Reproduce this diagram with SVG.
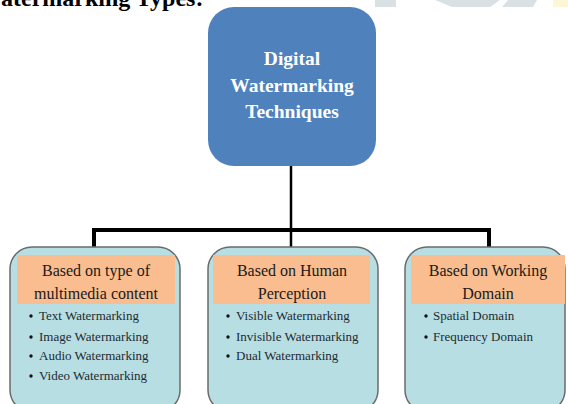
<svg xmlns="http://www.w3.org/2000/svg" width="568" height="404" viewBox="0 0 568 404">
  <style>
    .root-box { fill: #4f81bd; }
    .root-text { font-family: "Liberation Serif", "Times New Roman", serif; font-weight: bold; font-size: 19.5px; fill: #ffffff; text-anchor: middle; }
    .cat-box { fill: #b7dee2; stroke: #6b6b6b; stroke-width: 1.5; }
    .cat-head { fill: #f9bd8f; }
    .cat-text { font-family: "Liberation Serif", "Times New Roman", serif; font-size: 16px; fill: #1a1a1a; text-anchor: middle; }
    .item { font-family: "Liberation Serif", "Times New Roman", serif; font-size: 13px; fill: #1f2a33; }
    .bullet { fill: #111111; }
    .wire { fill: none; stroke: #000000; stroke-width: 4; stroke-linecap: square; }
    .stem { fill: none; stroke: #000000; stroke-width: 2.5; }
    .heading { font-family: "Liberation Serif", "Times New Roman", serif; font-weight: bold; font-size: 24px; fill: #000000; }
  </style>

  <!-- faint page-background shapes along the top edge -->
  <rect x="375" y="0" width="21" height="7" fill="#d9e1e4"/>
  <polygon points="435,0 500,0 490,7 452,7" fill="#d9e1e4"/>
  <polygon points="508,0 537,0 533,7 502,7" fill="#d9e1e4"/>
  <rect x="553" y="0" width="15" height="7" fill="#fdf7d6"/>

  <!-- section heading, clipped by the top edge of the page -->
  <text class="heading" x="1" y="6">atermarking Types:</text>

  <!-- connectors -->
  <g id="connectors">
    <line class="stem" x1="291" y1="165" x2="291" y2="230"/>
    <polyline class="wire" points="94,247 94,230 489,230 489,247"/>
    <line class="stem" x1="291" y1="230" x2="291" y2="248"/>
  </g>

  <!-- root node -->
  <g id="root">
    <rect class="root-box" x="208" y="7" width="168" height="159" rx="26" ry="26"/>
    <text class="root-text" x="292" y="65">Digital</text>
    <text class="root-text" x="292" y="92">Watermarking</text>
    <text class="root-text" x="292" y="118">Techniques</text>
  </g>

  <!-- category: multimedia content -->
  <g id="by-content">
    <rect class="cat-box" x="10" y="247" width="170" height="165" rx="22" ry="22"/>
    <rect class="cat-head" x="17" y="255" width="158" height="49"/>
    <text class="cat-text" x="96" y="276">Based on type of</text>
    <text class="cat-text" x="96" y="299">multimedia content</text>
    <circle class="bullet" cx="31" cy="316" r="1.7"/>
    <text class="item" x="39" y="320">Text Watermarking</text>
    <circle class="bullet" cx="31" cy="337" r="1.7"/>
    <text class="item" x="39" y="341">Image Watermarking</text>
    <circle class="bullet" cx="31" cy="356" r="1.7"/>
    <text class="item" x="39" y="360">Audio Watermarking</text>
    <circle class="bullet" cx="31" cy="376" r="1.7"/>
    <text class="item" x="39" y="380">Video Watermarking</text>
  </g>

  <!-- category: human perception -->
  <g id="by-perception">
    <rect class="cat-box" x="208" y="247" width="170" height="165" rx="22" ry="22"/>
    <rect class="cat-head" x="213" y="255" width="157" height="49"/>
    <text class="cat-text" x="292" y="276">Based on Human</text>
    <text class="cat-text" x="292" y="299">Perception</text>
    <circle class="bullet" cx="228" cy="316" r="1.7"/>
    <text class="item" x="236" y="320">Visible Watermarking</text>
    <circle class="bullet" cx="228" cy="337" r="1.7"/>
    <text class="item" x="236" y="341">Invisible Watermarking</text>
    <circle class="bullet" cx="228" cy="356" r="1.7"/>
    <text class="item" x="236" y="360">Dual Watermarking</text>
  </g>

  <!-- category: working domain -->
  <g id="by-domain">
    <rect class="cat-box" x="405" y="247" width="160" height="165" rx="22" ry="22"/>
    <rect class="cat-head" x="411" y="255" width="154" height="49"/>
    <text class="cat-text" x="488" y="276">Based on Working</text>
    <text class="cat-text" x="488" y="299">Domain</text>
    <circle class="bullet" cx="426" cy="316" r="1.7"/>
    <text class="item" x="433" y="320">Spatial Domain</text>
    <circle class="bullet" cx="426" cy="337" r="1.7"/>
    <text class="item" x="433" y="341">Frequency Domain</text>
  </g>
</svg>
